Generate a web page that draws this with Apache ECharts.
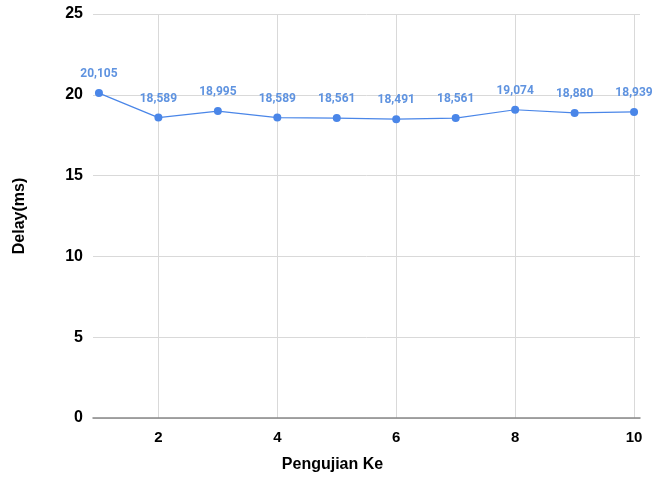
<!DOCTYPE html>
<html><head><meta charset="utf-8">
<script src="https://cdn.jsdelivr.net/npm/echarts@6/dist/echarts.min.js"></script>
<style>html,body{margin:0;padding:0;background:#fff}#c{width:665px;height:477px}</style>
</head><body><div id="c"></div>
<script>
const pengujian = [1,2,3,4,5,6,7,8,9,10];
const delayMs = [20.105,18.589,18.995,18.589,18.561,18.491,18.561,19.074,18.880,18.939];
const xTicks = [2,4,6,8,10];
const yTicks = [0,5,10,15,20,25];

const chart = echarts.init(document.getElementById('c'));
chart.setOption({
  animation:false,
  grid:{left:93,right:25,top:14,bottom:59},
  xAxis:{type:'value',min:0.9,max:10.1,
    axisLine:{show:true,onZero:false,lineStyle:{color:'#888',width:1.5}},
    axisTick:{show:false,customValues:xTicks},
    axisLabel:{customValues:xTicks,color:'#000',fontWeight:'bold',fontSize:15,fontFamily:'Liberation Sans',margin:12},
    splitLine:{show:true,lineStyle:{color:'#d9d9d9',width:1}}
  },
  yAxis:{type:'value',min:0,max:25,interval:5,
    axisLine:{show:false},axisTick:{show:false},
    axisLabel:{color:'#000',fontWeight:'bold',fontSize:16,fontFamily:'Liberation Sans',margin:10},
    splitLine:{lineStyle:{color:'#d9d9d9',width:1}}
  },
  graphic:[
    {type:'text',left:'center',top:457,x:10,style:{text:'Pengujian Ke',font:'bold 16px "Liberation Sans"',fill:'#000'}},
    {type:'text',x:20,y:216,rotation:Math.PI/2,style:{text:'Delay(ms)',font:'bold 16px "Liberation Sans"',fill:'#000',align:'center',verticalAlign:'middle'}}
  ],
  series:[{type:'line',data:pengujian.map((x,i)=>[x,delayMs[i]]),
    symbol:'circle',symbolSize:8,
    itemStyle:{color:'#4a86e8'},lineStyle:{color:'#4a86e8',width:1.2},
    label:{show:true,position:'top',distance:9,color:'#5f93e0',fontWeight:'bold',fontSize:12,fontFamily:'Roboto',
      formatter:p=>p.value[1].toFixed(3).replace('.',',')}
  }]
});
</script></body></html>
